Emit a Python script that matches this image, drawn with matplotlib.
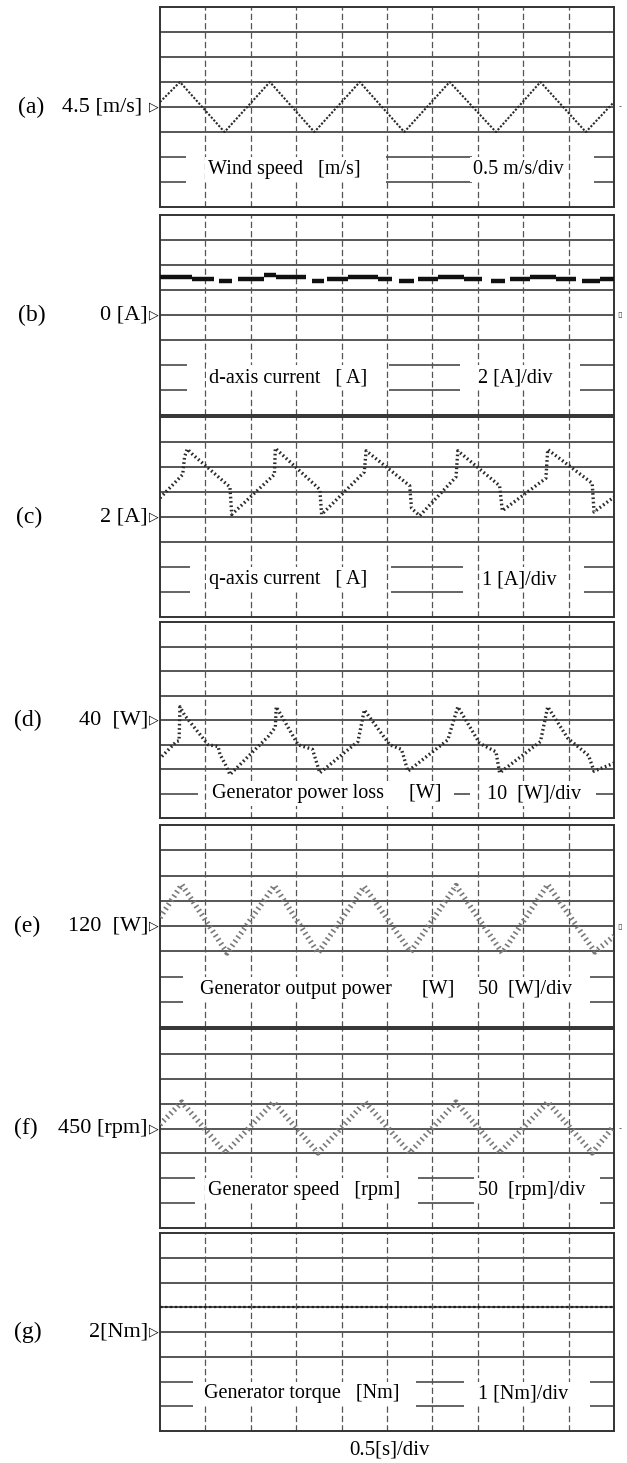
import matplotlib.pyplot as plt

# ---- data (time in s) ----
# (a) wind speed [m/s]
t_wind = [0.0, 0.22, 0.71, 1.21, 1.70, 2.20, 2.69, 3.19, 3.70, 4.19, 4.69, 5.0]
wind = [4.6, 5.0, 4.0, 5.0, 4.0, 5.0, 4.0, 5.0, 4.0, 5.0, 4.0, 4.6]

# (b) d-axis current [A], level segments
id_t0 = [0.00, 0.35, 0.65, 0.86, 1.15, 1.28, 1.67, 1.84, 2.07, 2.40,
         2.63, 2.84, 3.06, 3.35, 3.65, 3.85, 4.07, 4.36, 4.65, 4.85]
id_t1 = [0.35, 0.59, 0.79, 1.15, 1.28, 1.61, 1.81, 2.07, 2.40, 2.56,
         2.80, 3.06, 3.35, 3.55, 3.80, 4.07, 4.36, 4.58, 4.85, 5.00]
id_val = [3.02, 2.86, 2.72, 2.88, 3.20, 3.02, 2.72, 2.88, 3.07, 2.88,
          2.72, 2.88, 3.07, 2.88, 2.72, 2.88, 3.07, 2.88, 2.72, 2.88]

# (c) q-axis current [A]
t_iq = [0.0, 0.25, 0.27, 0.30, 0.36, 0.77, 0.79, 1.26, 1.27, 1.76, 1.78, 2.25, 2.27,
        2.75, 2.77, 2.86, 3.26, 3.28, 3.74, 3.77, 4.25, 4.27, 4.76, 4.78, 5.0]
iq = [2.76, 3.7, 4.4, 4.72, 4.5, 3.2, 2.1, 3.7, 4.75, 3.1, 2.1, 3.8, 4.65,
      3.25, 2.35, 2.05, 3.6, 4.65, 3.25, 2.25, 3.55, 4.7, 3.35, 2.2, 2.8]

# (d) generator power loss [W]
t_loss = [0.02, 0.18, 0.21, 0.22, 0.27, 0.53, 0.64, 0.66, 0.73, 0.77, 1.19, 1.27, 1.28,
          1.52, 1.68, 1.76, 2.18, 2.25, 2.53, 2.66, 2.73, 3.17, 3.28, 3.52, 3.70, 3.74,
          4.19, 4.27, 4.49, 4.72, 4.78, 5.0]
loss = [25.1, 31.2, 31.5, 45.4, 42.0, 29.9, 29.2, 26.0, 21.1, 17.7, 33.2, 37.0, 45.4,
        29.9, 28.0, 18.4, 31.2, 44.1, 29.9, 28.0, 19.1, 31.9, 45.4, 30.5, 27.0, 18.4,
        31.2, 45.4, 32.6, 25.5, 19.1, 22.4]

# (e) generator output power [W]
t_pout = [0.0, 0.24, 0.74, 1.26, 1.74, 2.25, 2.76, 3.26, 3.77, 4.27, 4.79, 5.0]
pout = [136.7, 202, 66.7, 200, 66.7, 198, 68.7, 200, 66.7, 202, 68.7, 100]

# (f) generator speed [rpm]
t_spd = [0.0, 0.24, 0.72, 1.25, 1.74, 2.26, 2.75, 3.26, 3.74, 4.27, 4.76, 5.0]
spd = [458, 503, 401, 503, 401, 503, 401, 503, 401, 503, 401, 455]

# (g) generator torque [Nm]
t_tq = [0.0, 5.0]
tq = [3.0, 3.0]

tags = ['(a)', '(b)', '(c)', '(d)', '(e)', '(f)', '(g)']
ref_labels = ['4.5 [m/s] ', '0 [A]', '2 [A]', '40  [W]', '120  [W]', '450 [rpm]', '2[Nm]']
refs = [4.5, 0, 2, 40, 120, 450, 2]
per_div = [0.5, 2, 1, 10, 50, 50, 1]
names = ['Wind speed   [m/s]', 'd-axis current   [ A]', 'q-axis current   [ A]',
         'Generator power loss     [W]', 'Generator output power      [W]',
         'Generator speed   [rpm]', 'Generator torque   [Nm]']
scales = ['0.5 m/s/div', '2 [A]/div', '1 [A]/div', '10  [W]/div', '50  [W]/div',
          '50  [rpm]/div', '1 [Nm]/div']

# ---- layout (pixels) ----
W, H = 627, 1463
X0, X1 = 160, 614
tops = [7, 215, 417, 622, 825, 1029, 1233]
bots = [207, 415, 617, 818, 1027, 1228, 1431]
tag_x = [18, 18, 16, 14, 14, 14, 14]
name_x = [1.06, 1.07, 1.07, 1.14, 0.88, 1.06, 0.97]     # in divisions
scale_x = [6.9, 7.0, 7.1, 7.2, 7.0, 7.0, 7.0]
text_row = [-2.5, -2.5, -2.5, -3.0, -2.5, -2.5, -2.5]
part_lines = [[-2, -3], [-2, -3], [-2, -3], [-3], [-2, -3], [-2, -3], [-2, -3]]
part_segs = [
    [(0, 0.57), (4.98, 6.87), (9.56, 10)],
    [(0, 0.6), (5.04, 6.6), (9.25, 10)],
    [(0, 0.66), (5.09, 6.68), (9.34, 10)],
    [(0, 0.84), (6.48, 6.83), (9.6, 10)],
    [(0, 0.51), (9.47, 10)],
    [(0, 0.77), (5.68, 6.92), (9.69, 10)],
    [(0, 0.73), (5.64, 6.7), (9.47, 10)],
]
right_marks = {0: '-', 1: '▯', 4: '▯', 5: '-'}

plt.rcParams['font.family'] = ['Liberation Serif', 'DejaVu Serif']

fig = plt.figure(figsize=(W / 100, H / 100), dpi=100)
grid_c = '#3a3a3a'

axes = []
for i in range(7):
    ax = fig.add_axes([X0 / W, 1 - bots[i] / H, (X1 - X0) / W, (bots[i] - tops[i]) / H])
    r, d = refs[i], per_div[i]
    ax.set_xlim(0, 5)
    ax.set_ylim(r - 4 * d, r + 4 * d)
    ax.set_xticks([])
    ax.set_yticks([])
    for s in ax.spines.values():
        s.set_color('#333333')
        s.set_linewidth(1.4)
    # horizontal grid
    for k in range(-3, 4):
        y = r + k * d
        if k in part_lines[i]:
            for a, b in part_segs[i]:
                ax.hlines(y, a * 0.5, b * 0.5, color=grid_c, lw=1.1)
        else:
            ax.axhline(y, color=grid_c, lw=1.2)
    # vertical grid
    for j in range(1, 10):
        ax.axvline(j * 0.5, color='#555555', lw=0.9, dashes=(5, 2.5))
    ty = r + text_row[i] * d
    ax.text(name_x[i] * 0.5, ty, names[i], fontsize=14.5, va='center', ha='left',
            bbox=dict(fc='white', ec='none', pad=2), zorder=5)
    ax.text(scale_x[i] * 0.5, ty, scales[i], fontsize=14.5, va='center', ha='left',
            bbox=dict(fc='white', ec='none', pad=2), zorder=5)
    yc = 1 - (tops[i] + bots[i]) / 2 / H
    fig.text(tag_x[i] / W, yc, tags[i], fontsize=17, va='center', ha='left')
    fig.text(148 / W, yc, ref_labels[i], fontsize=16, va='center', ha='right')
    fig.text(154 / W, yc, '▷', fontsize=9, va='center', ha='center',
             family=['DejaVu Sans'])
    if i in right_marks:
        fig.text(620 / W, yc, right_marks[i], fontsize=6, va='center', ha='center',
                 family=['DejaVu Sans'], color='#444444')
    axes.append(ax)

# traces
axes[0].plot(t_wind, wind, color='#2a2a2a', lw=1.5, dashes=(1.0, 0.8), zorder=4)
axes[1].hlines(id_val, id_t0, id_t1, color='#111111', lw=3.2, zorder=4)
axes[2].plot(t_iq, iq, color='#2a2a2a', lw=2.4, dashes=(0.5, 0.8), zorder=4)
axes[3].plot(t_loss, loss, color='#2a2a2a', lw=2.4, dashes=(0.5, 0.8), zorder=4)
axes[4].plot(t_pout, pout, color='#7a7a7a', lw=4, dashes=(0.3, 0.6),
             dash_capstyle='butt', zorder=4)
axes[5].plot(t_spd, spd, color='#7a7a7a', lw=4, dashes=(0.3, 0.6),
             dash_capstyle='butt', zorder=4)
axes[6].plot(t_tq, tq, color='#222222', lw=1.6, dashes=(1.2, 1.0), zorder=4)

fig.text(390 / W, 1 - 1450 / H, '0.5[s]/div', fontsize=15, va='center', ha='center')

fig.savefig('out.png', dpi=100, facecolor='white')
